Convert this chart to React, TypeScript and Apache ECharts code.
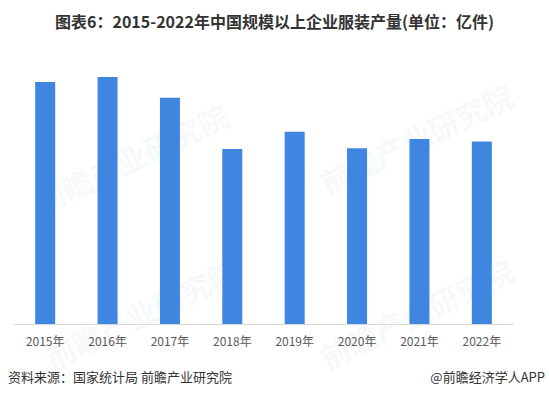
import React, { useEffect, useRef } from "react";
import * as echarts from "echarts";

const categories = ["2015年", "2016年", "2017年", "2018年", "2019年", "2020年", "2021年", "2022年"];
const output = [308.14, 314.51, 287.81, 222.74, 244.72, 223.73, 235.35, 232.42];
const titleText = "图表6：2015-2022年中国规模以上企业服装产量(单位：亿件)";
const sourceText = "资料来源：国家统计局 前瞻产业研究院";
const brandText = "@前瞻经济学人APP";

export default function App() {
  const ref = useRef<HTMLDivElement>(null);
  useEffect(() => {
    if (!ref.current) return;
    const chart = echarts.init(ref.current, null, { renderer: "svg" });
    const wm = (x: number, y: number) => ({
      type: "text",
      x,
      y,
      rotation: Math.PI / 7,
      z: -1,
      style: { text: "前瞻产业研究院", fontSize: 30, fontWeight: "bold", fill: "rgba(190,200,215,0.13)", fontFamily: "Noto Sans CJK SC" },
    });
    chart.setOption({
      animation: false,
      backgroundColor: "#ffffff",
      title: {
        text: titleText,
        left: "center",
        top: 8,
        textStyle: { fontSize: 16, fontWeight: "bold", color: "#333333", fontFamily: "Noto Sans CJK SC" },
      },
      graphic: [
        {
          type: "text",
          left: 8,
          top: 370,
          style: { text: sourceText, fontSize: 13, fill: "#333333", fontFamily: "Noto Sans CJK SC" },
        },
        {
          type: "text",
          right: 4,
          top: 370,
          style: { text: brandText, fontSize: 13, fill: "#333333", fontFamily: "Noto Sans CJK SC" },
        },
        wm(30, 190),
        wm(315, 170),
        wm(40, 345),
        wm(315, 345),
      ],
      grid: { left: 14, right: 36, top: 49, bottom: 74 },
      xAxis: {
        type: "category",
        data: categories,
        axisLine: { show: true, lineStyle: { color: "#d9d9d9", width: 1 } },
        axisTick: { show: false },
        axisLabel: { color: "#595959", fontSize: 12, margin: 10, fontFamily: "Noto Sans CJK SC" },
      },
      yAxis: {
        type: "value",
        min: 0,
        max: 350,
        show: false,
        splitLine: { show: false },
      },
      series: [
        {
          type: "bar",
          data: output,
          barWidth: 20,
          itemStyle: { color: "#3f86e0" },
        },
      ],
    });
    return () => chart.dispose();
  }, []);
  return <div ref={ref} style={{ width: 549, height: 398, position: "absolute", left: 0, top: 0 }} />;
}
